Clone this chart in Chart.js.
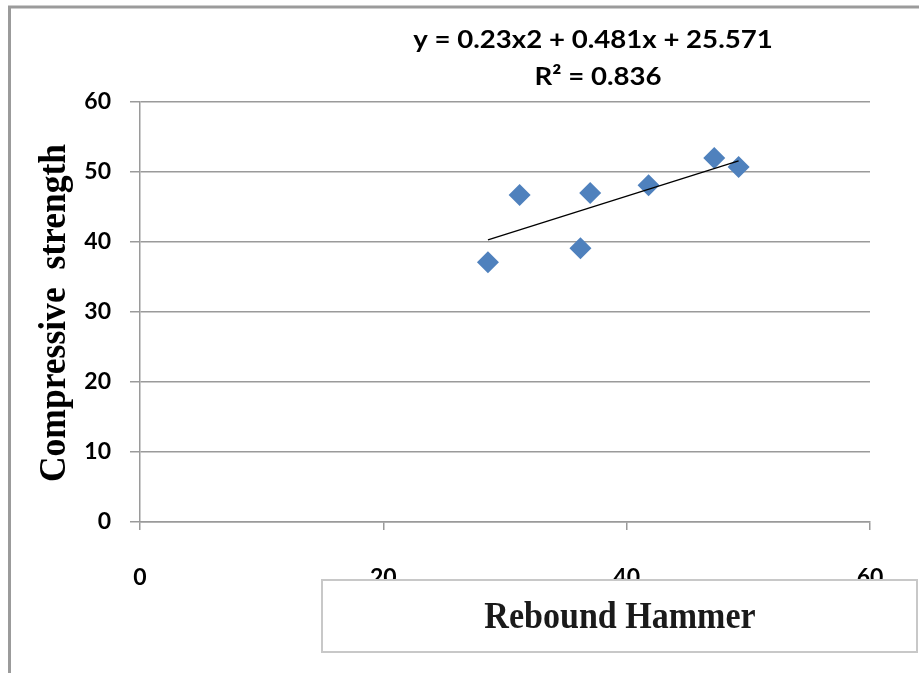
<!DOCTYPE html>
<html>
<head>
<meta charset="utf-8">
<script src="https://cdn.jsdelivr.net/npm/chart.js@4.4.0/dist/chart.umd.min.js"></script>
<style>
  html, body { margin: 0; padding: 0; background: #fff; }
  #wrap { width: 919px; height: 673px; position: relative; }
</style>
</head>
<body>
<div id="wrap"><canvas id="myChart" width="919" height="673"></canvas></div>
<script>
// DATA
const hammerValues = [28.6, 31.2, 36.2, 37.0, 41.8, 47.2, 49.2];
const strengthValues = [37.1, 46.7, 39.1, 47.0, 48.1, 52.0, 50.7];
const trendX = [28.6, 49.2];
const trendY = [40.3, 51.6];
const xTicks = [0, 20, 40, 60];
const yTicks = [0, 10, 20, 30, 40, 50, 60];
const equationText = 'y = 0.23x2 + 0.481x + 25.571';
const r2Text = 'R² = 0.836';
const xTitle = 'Rebound Hammer';
const yTitle = 'Compressive  strength';

const tickFont = { family: 'Lato, "Open Sans", sans-serif', size: 23, weight: 'bold' };
const gridColor = '#9a9a9a';

// draw text squeezed/stretched horizontally
function drawText(c, txt, x, y, font, sx) {
  c.save();
  c.translate(x, y);
  c.scale(sx, 1);
  c.font = font;
  c.fillText(txt, 0, 0);
  c.restore();
}

// frame, equation, axis titles
const decor = {
  id: 'decor',
  beforeDraw(chart) {
    const c = chart.ctx;
    c.save();
    c.fillStyle = '#fff';
    c.fillRect(0, 0, chart.width, chart.height);
    c.strokeStyle = '#9b9b9b';
    c.lineWidth = 3;
    c.beginPath();
    c.moveTo(9.5, chart.height);
    c.lineTo(9.5, 7);
    c.lineTo(chart.width, 7);
    c.stroke();
    c.restore();
  },
  afterDraw(chart) {
    const c = chart.ctx;
    c.save();
    c.fillStyle = '#000';
    c.textAlign = 'center';
    c.textBaseline = 'middle';
    // equation
    drawText(c, equationText, 593, 40, 'bold 24px Lato, "Open Sans", sans-serif', 1.15);
    drawText(c, r2Text, 598, 77, 'bold 24px Lato, "Open Sans", sans-serif', 1.15);
    // y title
    c.save();
    c.translate(65, 313);
    c.rotate(-Math.PI / 2);
    c.textBaseline = 'alphabetic';
    drawText(c, yTitle, 0, 0, 'bold 37px "Liberation Serif", "DejaVu Serif", serif', 0.96);
    c.restore();
    // x title box
    c.fillStyle = '#fff';
    c.fillRect(322, 580, 595, 72);
    c.strokeStyle = '#c8c8c8';
    c.lineWidth = 2;
    c.strokeRect(322, 580, 595, 72);
    c.fillStyle = '#1a1a1a';
    c.textBaseline = 'alphabetic';
    drawText(c, xTitle, 620, 628, 'bold 37px "Liberation Serif", "DejaVu Serif", serif', 0.92);
    c.restore();
  }
};

const ctx = document.getElementById('myChart');
const myChart = new Chart(ctx, {
  type: 'scatter',
  data: {
    datasets: [{
      label: 'Data',
      data: hammerValues.map((x, i) => ({ x: x, y: strengthValues[i] })),
      pointStyle: 'rectRot',
      pointRadius: 11,
      pointHoverRadius: 11,
      backgroundColor: '#4F81BD',
      borderColor: '#4F81BD',
      borderWidth: 0,
      order: 2
    }, {
      label: 'Trend',
      type: 'line',
      data: trendX.map((x, i) => ({ x: x, y: trendY[i] })),
      borderColor: '#000',
      borderWidth: 1.3,
      pointRadius: 0,
      fill: false,
      order: 1
    }]
  },
  options: {
    responsive: false,
    animation: false,
    events: [],
    layout: { padding: { left: 0, right: 49, top: 102, bottom: 0 } },
    plugins: {
      legend: { display: false },
      tooltip: { enabled: false }
    },
    scales: {
      x: {
        type: 'linear',
        min: 0,
        max: 60,
        afterBuildTicks: (s) => { s.ticks = xTicks.map(v => ({ value: v })); },
        afterFit: (s) => { s.height = 151; },
        ticks: { font: tickFont, color: '#000', padding: 34, maxRotation: 0 },
        grid: { drawOnChartArea: false, drawTicks: true, tickLength: 8, color: gridColor, lineWidth: 1.5 },
        border: { display: true, color: gridColor, width: 1.5 }
      },
      y: {
        min: 0,
        max: 60,
        afterBuildTicks: (s) => { s.ticks = yTicks.map(v => ({ value: v })); },
        afterFit: (s) => { s.width = 140; },
        ticks: { font: tickFont, color: '#000', padding: 19 },
        grid: { drawTicks: true, tickLength: 10, color: gridColor, lineWidth: 1.5 },
        border: { display: true, color: gridColor, width: 1.5 }
      }
    }
  },
  plugins: [decor]
});
</script>
</body>
</html>
